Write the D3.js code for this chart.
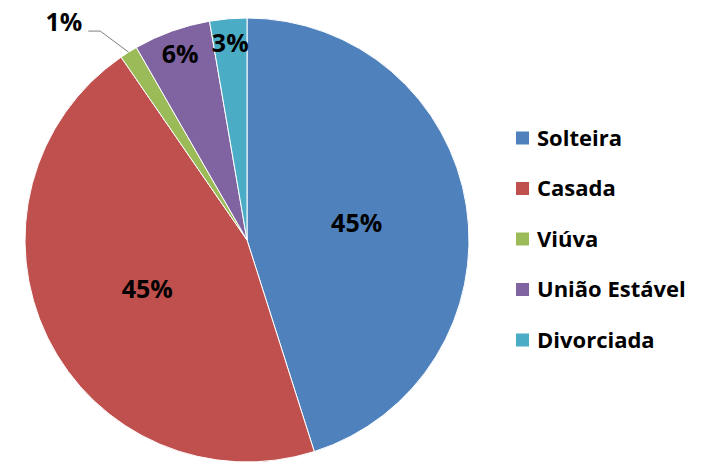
<!DOCTYPE html>
<html>
<head>
<meta charset="utf-8">
<title>Estado civil</title>
<script src="https://d3js.org/d3.v7.min.js"></script>
<style>
	body { margin: 0; background: #fff; }
	text { font-family: "Open Sans", "DejaVu Sans", sans-serif; font-weight: bold; fill: #000; }
</style>
</head>
<body>
<script>
	var categories = ["Solteira", "Casada", "Viúva", "União Estável", "Divorciada"];
	var values = [45.1, 45.3, 1.3, 5.6, 2.7];
	var colors = ["#4F81BD", "#C0504D", "#9BBB59", "#8064A2", "#4BACC6"];

	var width = 711, height = 476;
	var cx = 247, cy = 240, radius = 222;

	var svg = d3.select("body").append("svg")
		.attr("width", width)
		.attr("height", height);

	var total = d3.sum(values);
	var data = categories.map(function(c, i) { return { name: c, value: values[i], color: colors[i] }; });

	var pie = d3.pie().sort(null).value(function(d) { return d.value; });
	var arcs = pie(data);

	var arc = d3.arc().innerRadius(0).outerRadius(radius);

	var g = svg.append("g").attr("transform", "translate(" + cx + "," + cy + ")");

	g.selectAll("path")
		.data(arcs)
		.enter()
		.append("path")
		.attr("d", arc)
		.attr("fill", function(d) { return d.data.color; })
		.attr("stroke", "#fff")
		.attr("stroke-width", 1);

	function pct(d) { return Math.round(d.data.value / total * 100) + "%"; }
	function point(angle, r) { return [Math.sin(angle) * r, -Math.cos(angle) * r]; }

	// labels: big slices at half radius, small ones near the rim, tiny one outside with a leader
	arcs.forEach(function(d) {
		var mid = (d.startAngle + d.endAngle) / 2;
		var share = d.data.value / total;
		if (share < 0.02) {
			var p0 = point(mid, radius);
			var p1 = point(mid - 0.05, radius * 1.15);
			var p2 = [p1[0] - 12, p1[1]];
			g.append("polyline")
				.attr("points", [p0, p1, p2].map(function(p) { return p.join(","); }).join(" "))
				.attr("fill", "none")
				.attr("stroke", "#7f7f7f")
				.attr("stroke-width", 1);
			g.append("text")
				.attr("x", p2[0] - 6)
				.attr("y", p2[1])
				.attr("dy", "-0.02em")
				.attr("text-anchor", "end")
				.attr("font-size", 25)
				.text(pct(d));
		} else {
			var r = share < 0.1 ? radius * 0.89 : radius * 0.5;
			var p = point(mid, r);
			g.append("text")
				.attr("x", p[0])
				.attr("y", p[1])
				.attr("dy", "0.36em")
				.attr("text-anchor", "middle")
				.attr("font-size", 25)
				.text(pct(d));
		}
	});

	var legend = svg.append("g").attr("transform", "translate(516,138)");
	var rows = legend.selectAll("g")
		.data(data)
		.enter()
		.append("g")
		.attr("transform", function(d, i) { return "translate(0," + (i * 50.5) + ")"; });

	rows.append("rect")
		.attr("x", 0).attr("y", -6.5)
		.attr("width", 13).attr("height", 13)
		.attr("fill", function(d) { return d.color; });

	rows.append("text")
		.attr("x", 21)
		.attr("dy", "0.36em")
		.attr("font-size", 22)
		.text(function(d) { return d.name; });
</script>
</body>
</html>
